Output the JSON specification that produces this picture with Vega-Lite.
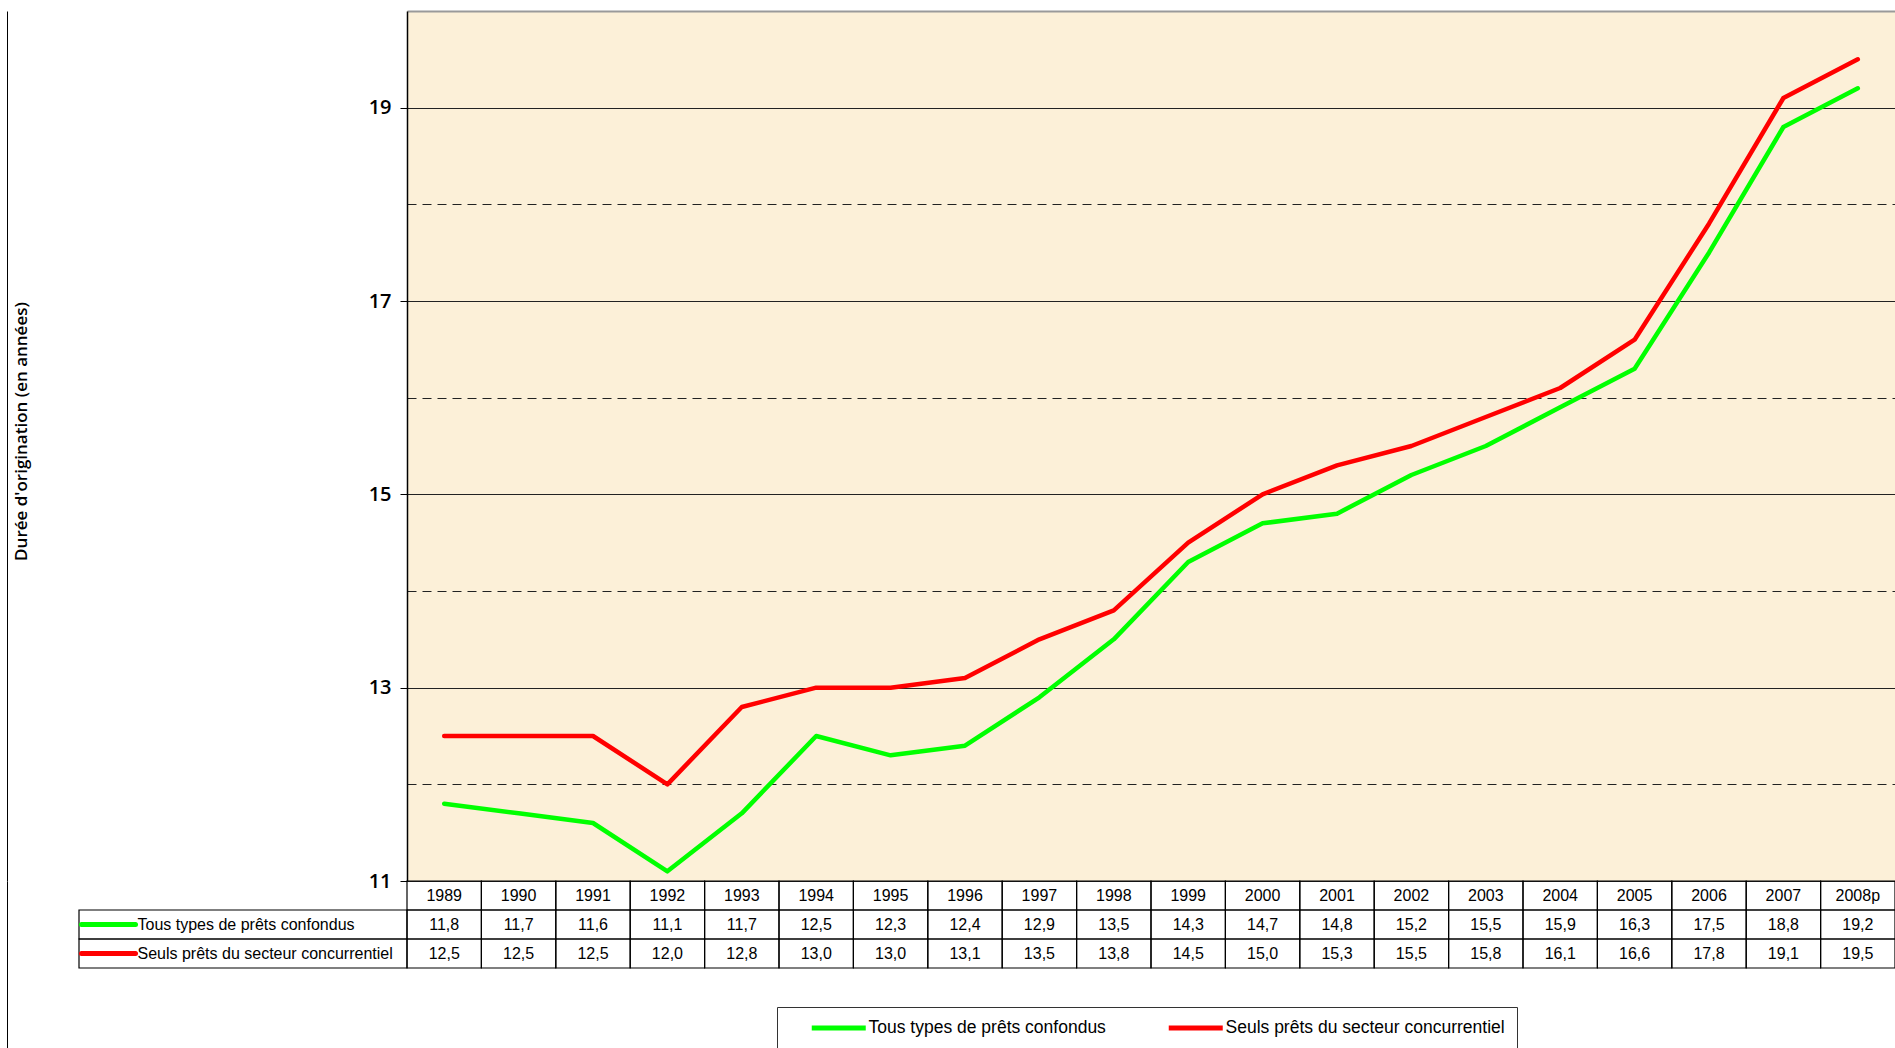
{
  "$schema": "https://vega.github.io/schema/vega-lite/v6.json",
  "padding": {"left": 0, "top": 8, "right": 0, "bottom": 0},
  "autosize": {"type": "pad"},
  "background": "#ffffff",
  "columns": 3,
  "spacing": 0,
  "bounds": "flush",
  "align": "each",
  "resolve": {"legend": {"color": "independent"}},
  "datasets": {
    "d": [
      {"year": "1989", "series": "Tous types de prêts confondus", "value": 11.8},
      {"year": "1990", "series": "Tous types de prêts confondus", "value": 11.7},
      {"year": "1991", "series": "Tous types de prêts confondus", "value": 11.6},
      {"year": "1992", "series": "Tous types de prêts confondus", "value": 11.1},
      {"year": "1993", "series": "Tous types de prêts confondus", "value": 11.7},
      {"year": "1994", "series": "Tous types de prêts confondus", "value": 12.5},
      {"year": "1995", "series": "Tous types de prêts confondus", "value": 12.3},
      {"year": "1996", "series": "Tous types de prêts confondus", "value": 12.4},
      {"year": "1997", "series": "Tous types de prêts confondus", "value": 12.9},
      {"year": "1998", "series": "Tous types de prêts confondus", "value": 13.5},
      {"year": "1999", "series": "Tous types de prêts confondus", "value": 14.3},
      {"year": "2000", "series": "Tous types de prêts confondus", "value": 14.7},
      {"year": "2001", "series": "Tous types de prêts confondus", "value": 14.8},
      {"year": "2002", "series": "Tous types de prêts confondus", "value": 15.2},
      {"year": "2003", "series": "Tous types de prêts confondus", "value": 15.5},
      {"year": "2004", "series": "Tous types de prêts confondus", "value": 15.9},
      {"year": "2005", "series": "Tous types de prêts confondus", "value": 16.3},
      {"year": "2006", "series": "Tous types de prêts confondus", "value": 17.5},
      {"year": "2007", "series": "Tous types de prêts confondus", "value": 18.8},
      {"year": "2008p", "series": "Tous types de prêts confondus", "value": 19.2},
      {"year": "1989", "series": "Seuls prêts du secteur concurrentiel", "value": 12.5},
      {"year": "1990", "series": "Seuls prêts du secteur concurrentiel", "value": 12.5},
      {"year": "1991", "series": "Seuls prêts du secteur concurrentiel", "value": 12.5},
      {"year": "1992", "series": "Seuls prêts du secteur concurrentiel", "value": 12.0},
      {"year": "1993", "series": "Seuls prêts du secteur concurrentiel", "value": 12.8},
      {"year": "1994", "series": "Seuls prêts du secteur concurrentiel", "value": 13.0},
      {"year": "1995", "series": "Seuls prêts du secteur concurrentiel", "value": 13.0},
      {"year": "1996", "series": "Seuls prêts du secteur concurrentiel", "value": 13.1},
      {"year": "1997", "series": "Seuls prêts du secteur concurrentiel", "value": 13.5},
      {"year": "1998", "series": "Seuls prêts du secteur concurrentiel", "value": 13.8},
      {"year": "1999", "series": "Seuls prêts du secteur concurrentiel", "value": 14.5},
      {"year": "2000", "series": "Seuls prêts du secteur concurrentiel", "value": 15.0},
      {"year": "2001", "series": "Seuls prêts du secteur concurrentiel", "value": 15.3},
      {"year": "2002", "series": "Seuls prêts du secteur concurrentiel", "value": 15.5},
      {"year": "2003", "series": "Seuls prêts du secteur concurrentiel", "value": 15.8},
      {"year": "2004", "series": "Seuls prêts du secteur concurrentiel", "value": 16.1},
      {"year": "2005", "series": "Seuls prêts du secteur concurrentiel", "value": 16.6},
      {"year": "2006", "series": "Seuls prêts du secteur concurrentiel", "value": 17.8},
      {"year": "2007", "series": "Seuls prêts du secteur concurrentiel", "value": 19.1},
      {"year": "2008p", "series": "Seuls prêts du secteur concurrentiel", "value": 19.5}
    ]
  },
  "concat": [
    {
      "width": 79, "height": 870,
      "data": {"values": [{}]},
      "mark": {"type": "point", "opacity": 0},
      "encoding": {
        "y": {"datum": 0, "type": "quantitative",
          "axis": {"orient": "left", "offset": -7, "labels": false, "ticks": false, "grid": false, "title": null, "domainColor": "#000000", "domainWidth": 1}}
      }
    },
    {
      "width": 328, "height": 870,
      "data": {"values": [{}]},
      "mark": {"type": "point", "opacity": 0},
      "encoding": {}
    },
    {
      "width": 1488, "height": 870,
      "data": {"name": "d"},
      "view": {"fill": "#FCF0D8", "stroke": null},
      "mark": {"type": "line", "strokeWidth": 4.5, "strokeCap": "round", "strokeJoin": "round"},
      "encoding": {
        "x": {"field": "year", "type": "nominal", "scale": {"type": "point", "padding": 0.5}, "axis": null},
        "y": {"field": "value", "type": "quantitative",
          "scale": {"domain": [11, 20], "nice": false, "zero": false},
          "axis": {
            "values": [11, 12, 13, 14, 15, 16, 17, 18, 19, 20],
            "title": "Durée d'origination (en années)",
            "titleFont": "Open Sans", "titleFontSize": 17, "titleFontWeight": 600, "titleColor": "#000000",
            "titleX": -377, "titleY": 420,
            "labelExpr": "datum.value % 2 == 1 ? datum.label : ''",
            "labelFont": "Open Sans", "labelFontSize": 20, "labelFontWeight": 600, "labelColor": "#000000",
            "labelPadding": 9,
            "tickSize": 7, "tickColor": "#000000",
            "tickOpacity": {"condition": {"test": "datum.value % 2 == 0", "value": 0}, "value": 1},
            "domainColor": "#000000", "domainWidth": 1.5,
            "grid": true,
            "gridColor": {"condition": {"test": "datum.value == 20", "value": "#9a9a9a"}, "value": "#222222"},
            "gridWidth": {"condition": {"test": "datum.value == 20", "value": 2}, "value": 1},
            "gridDash": {"condition": {"test": "datum.value % 2 == 0 && datum.value < 20", "value": [9, 6]}, "value": []}
          }
        },
        "color": {"field": "series", "type": "nominal",
          "scale": {"domain": ["Tous types de prêts confondus", "Seuls prêts du secteur concurrentiel"], "range": ["#00FF00", "#FF0000"]},
          "legend": {
            "orient": "none", "legendX": 370, "legendY": 996,
            "direction": "horizontal", "title": null,
            "symbolType": "M-1,0H17", "symbolSize": 36, "symbolStrokeWidth": 5,
            "symbolOffset": 17, "labelOffset": 45,
            "labelFont": "Liberation Sans", "labelFontSize": 17.5, "labelColor": "#000000", "labelLimit": 400,
            "columnPadding": 40,
            "padding": 12, "strokeColor": "#333333", "fillColor": "#ffffff"
          }
        }
      }
    },
    {
      "width": 79, "height": 170,
      "data": {"values": [{}]},
      "mark": {"type": "point", "opacity": 0},
      "encoding": {
        "y": {"datum": 0, "type": "quantitative",
          "axis": {"orient": "left", "offset": -7, "labels": false, "ticks": false, "grid": false, "title": null, "domainColor": "#000000", "domainWidth": 1}}
      }
    },
    {
      "width": 328, "height": 87,
      "data": {"name": "d"},
      "transform": [{"filter": "datum.year == '1989'"}],
      "mark": {"type": "rect", "filled": false, "stroke": "#000000", "strokeWidth": 1.2},
      "encoding": {
        "x": {"value": 0},
        "x2": {"value": "width"},
        "y": {"field": "series", "type": "nominal",
          "scale": {"domain": ["header", "Tous types de prêts confondus", "Seuls prêts du secteur concurrentiel"], "paddingInner": 0, "paddingOuter": 0},
          "axis": {
            "orient": "left", "offset": -56, "domain": false, "grid": false, "title": null, "zindex": 1,
            "tickSize": 54, "tickWidth": 5, "tickCap": "round",
            "tickColor": {"condition": {"test": "datum.value == 'Seuls prêts du secteur concurrentiel'", "value": "#FF0000"}, "value": "#00FF00"},
            "tickOpacity": {"condition": {"test": "datum.value == 'header'", "value": 0}, "value": 1},
            "labelExpr": "datum.value == 'header' ? '' : datum.label",
            "labelAlign": "left", "labelPadding": -56, "labelLimit": 400,
            "labelFont": "Liberation Sans", "labelFontSize": 16, "labelColor": "#000000"
          }
        }
      }
    },
    {
      "width": 1488, "height": 87,
      "data": {"name": "d"},
      "encoding": {
        "x": {"field": "year", "type": "nominal", "scale": {"type": "band", "paddingInner": 0, "paddingOuter": 0}, "axis": null}
      },
      "layer": [
        {
          "mark": {"type": "rect", "filled": false, "stroke": "#000000", "strokeWidth": 1.2},
          "encoding": {
            "y": {"field": "series", "type": "nominal",
              "scale": {"domain": ["header", "Tous types de prêts confondus", "Seuls prêts du secteur concurrentiel"], "paddingInner": 0, "paddingOuter": 0},
              "axis": null}
          }
        },
        {
          "transform": [{"filter": "datum.series == 'Tous types de prêts confondus'"}],
          "mark": {"type": "rect", "filled": false, "stroke": "#000000", "strokeWidth": 1.2},
          "encoding": {"y": {"datum": "header", "type": "nominal"}}
        },
        {
          "mark": {"type": "text", "font": "Liberation Sans", "fontSize": 16, "color": "#000000"},
          "encoding": {
            "y": {"field": "series", "type": "nominal"},
            "text": {"field": "value", "type": "quantitative", "format": ".1f"}
          }
        },
        {
          "transform": [{"filter": "datum.series == 'Tous types de prêts confondus'"}],
          "mark": {"type": "text", "font": "Liberation Sans", "fontSize": 16, "color": "#000000"},
          "encoding": {
            "y": {"datum": "header", "type": "nominal"},
            "text": {"field": "year", "type": "nominal"}
          }
        }
      ]
    }
  ],
  "config": {
    "view": {"stroke": null},
    "font": "Liberation Sans",
    "locale": {"number": {"decimal": ",", "thousands": " ", "grouping": [3], "currency": ["", " €"]}}
  }
}
